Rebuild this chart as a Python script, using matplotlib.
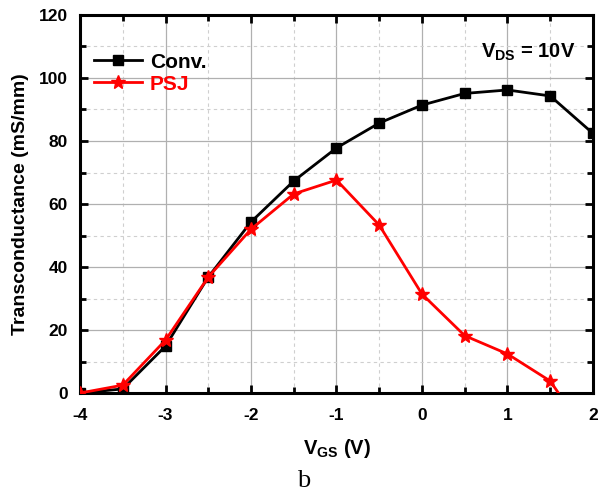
import matplotlib.pyplot as plt
from matplotlib.ticker import MultipleLocator

plt.rcParams["font.family"] = "Liberation Sans"
plt.rcParams["font.weight"] = "bold"
plt.rcParams["axes.unicode_minus"] = False
plt.rcParams["mathtext.fontset"] = "custom"
plt.rcParams["mathtext.rm"] = "Liberation Sans:bold"
plt.rcParams["mathtext.it"] = "Liberation Sans:bold"
plt.rcParams["mathtext.bf"] = "Liberation Sans:bold"

vgs = [-4, -3.5, -3, -2.5, -2, -1.5, -1, -0.5, 0, 0.5, 1, 1.5, 2]
gm_conv = [0, 1.3, 14.9, 36.8, 54.3, 67.3, 77.8, 85.7, 91.4, 95.1, 96.2, 94.3, 82.4]
gm_psj = [0, 2.5, 16.8, 36.8, 52.0, 63.2, 67.6, 53.3, 31.4, 18.2, 12.4, 3.8, -16]

fig = plt.figure(figsize=(6.08, 4.98), dpi=100)
ax = fig.add_axes([0.1316, 0.2108, 0.8437, 0.7591])

ax.plot(vgs, gm_conv, color="black", lw=2, marker="s", ms=7, label="Conv.", zorder=3)
ax.plot(vgs, gm_psj, color="red", lw=2, marker="*", ms=10, label="PSJ", zorder=4)

ax.set_xlim(-4, 2)
ax.set_ylim(0, 120)
ax.xaxis.set_major_locator(MultipleLocator(1))
ax.xaxis.set_minor_locator(MultipleLocator(0.5))
ax.yaxis.set_major_locator(MultipleLocator(20))
ax.yaxis.set_minor_locator(MultipleLocator(10))

ax.grid(which="major", color="#b0b0b0", lw=0.9, ls="-")
ax.grid(which="minor", color="#cfcfcf", lw=0.8, ls=(0, (3, 3)))
ax.set_axisbelow(True)

for s in ax.spines.values():
    s.set_linewidth(2.2)
ax.tick_params(which="both", direction="in", top=True, right=True, width=2)
ax.tick_params(which="major", length=6, labelsize=12.5, pad=9)
ax.tick_params(axis="x", which="major", pad=11)
ax.tick_params(which="minor", length=4)

ax.set_xlabel("V$_{GS}$ (V)", fontsize=14.5, fontweight="bold", labelpad=10)
ax.set_ylabel("Transconductance (mS/mm)", fontsize=14, fontweight="bold", labelpad=7)

ax.text(0.965, 0.9, "V$_{DS}$ = 10V", transform=ax.transAxes, ha="right", va="center",
        fontsize=14.5, fontweight="bold")

ax.legend(loc="upper left", frameon=False, fontsize=15, handlelength=2.3,
          labelcolor="linecolor", bbox_to_anchor=(-0.01, 0.95), borderaxespad=0.5,
          labelspacing=0.15, handletextpad=0.4)

fig.text(0.5, 0.012, "b", ha="center", va="bottom", fontsize=19,
         family="Liberation Serif", fontweight="normal")

fig.savefig("out.png", dpi=100)
